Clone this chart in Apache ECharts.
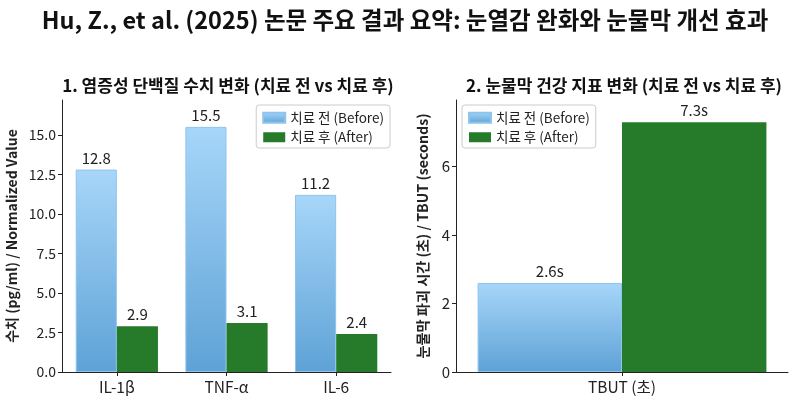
<!DOCTYPE html>
<html>
<head>
<meta charset="utf-8">
<script src="https://cdn.jsdelivr.net/npm/echarts@6/dist/echarts.min.js"></script>
<style>
  html, body { margin: 0; padding: 0; background: #fff; }
  #chart { width: 800px; height: 409px; }
</style>
</head>
<body>
<div id="chart"></div>
<script>
// 데이터
const seriesNames = ['치료 전 (Before)', '치료 후 (After)'];
const proteinCats = ['IL-1β', 'TNF-α', 'IL-6'];
const proteinBefore = [12.8, 15.5, 11.2];
const proteinAfter = [2.9, 3.1, 2.4];
const tbutCats = ['TBUT (초)'];
const tbutBefore = [2.6];
const tbutAfter = [7.3];

const FONT = '"Noto Sans CJK KR", "Noto Sans", sans-serif';
const beforeColor = new echarts.graphic.LinearGradient(0, 0, 0, 1, [
  { offset: 0, color: '#a7d6f9' },
  { offset: 1, color: '#5ea2d6' }
]);
const afterColor = '#267b2a';

const chart = echarts.init(document.getElementById('chart'));

// 공통 축 스타일
const axisLine = { show: true, lineStyle: { color: '#222', width: 1 } };
const axisLabel = { color: '#222', fontSize: 14, fontFamily: FONT };
const legendBase = {
  data: seriesNames, orient: 'vertical', top: 105,
  icon: 'rect', itemWidth: 22, itemHeight: 10, itemGap: 6,
  padding: [6, 6, 4, 6], borderColor: '#ccc', borderWidth: 1, borderRadius: 3,
  textStyle: { fontSize: 13.5, color: '#222', fontFamily: FONT }
};

const option = {
  backgroundColor: '#fff',
  animation: false,
  textStyle: { fontFamily: FONT },
  title: [
    {
      text: 'Hu, Z., et al. (2025) 논문 주요 결과 요약: 눈열감 완화와 눈물막 개선 효과',
      left: 400, top: 3, textAlign: 'center',
      textStyle: { fontSize: 23.5, fontWeight: 'bold', color: '#111', fontFamily: FONT }
    },
    {
      text: '1. 염증성 단백질 수치 변화 (치료 전 vs 치료 후)',
      left: 223, top: 72, textAlign: 'center',
      textStyle: { fontSize: 17, fontWeight: 'bold', color: '#111', fontFamily: FONT }
    },
    {
      text: '2. 눈물막 건강 지표 변화 (치료 전 vs 치료 후)',
      left: 619, top: 72, textAlign: 'center',
      textStyle: { fontSize: 17, fontWeight: 'bold', color: '#111', fontFamily: FONT }
    }
  ],
  legend: [
    Object.assign({}, legendBase, { right: 410 }),
    Object.assign({}, legendBase, { left: 462 })
  ],
  grid: [
    { left: 62, right: 409, top: 100, bottom: 37 },
    { left: 456, right: 12, top: 100, bottom: 37 }
  ],
  xAxis: [
    {
      type: 'category', gridIndex: 0, data: proteinCats,
      axisLine: axisLine, axisTick: { show: true, alignWithLabel: true, length: 4, lineStyle: { color: '#222' } },
      axisLabel: Object.assign({}, axisLabel, { fontSize: 15.5, margin: 7 })
    },
    {
      type: 'category', gridIndex: 1, data: tbutCats,
      axisLine: axisLine, axisTick: { show: true, alignWithLabel: true, length: 4, lineStyle: { color: '#222' } },
      axisLabel: Object.assign({}, axisLabel, { fontSize: 15.5, margin: 7 })
    }
  ],
  yAxis: [
    {
      type: 'value', gridIndex: 0, min: 0, max: 17.2, interval: 2.5,
      name: '수치 (pg/ml) / Normalized Value', nameLocation: 'middle', nameGap: 43,
      nameTextStyle: { fontSize: 14, fontWeight: 'bold', color: '#222', fontFamily: FONT },
      axisLine: axisLine, axisTick: { show: true, length: 4, lineStyle: { color: '#222' } },
      splitLine: { show: false },
      axisLabel: Object.assign({}, axisLabel, {
        showMaxLabel: false, margin: 6,
        formatter: function (v) { return v.toFixed(1); }
      })
    },
    {
      type: 'value', gridIndex: 1, min: 0, max: 7.95, interval: 2,
      name: '눈물막 파괴 시간 (초) / TBUT (seconds)', nameLocation: 'middle', nameGap: 26,
      nameTextStyle: { fontSize: 14.2, fontWeight: 'bold', color: '#222', fontFamily: FONT },
      axisLine: axisLine, axisTick: { show: true, length: 4, lineStyle: { color: '#222' } },
      splitLine: { show: false },
      axisLabel: Object.assign({}, axisLabel, { showMaxLabel: false, fontSize: 15, margin: 6 })
    }
  ],
  series: [
    {
      name: seriesNames[0], type: 'bar', xAxisIndex: 0, yAxisIndex: 0,
      data: proteinBefore, barCategoryGap: '25%', barGap: '0%',
      itemStyle: { color: beforeColor, borderColor: '#8fc4ec', borderWidth: 1 },
      label: { show: true, position: 'top', fontSize: 15, color: '#222', distance: 4,
        formatter: function (p) { return p.value.toFixed(1); } }
    },
    {
      name: seriesNames[1], type: 'bar', xAxisIndex: 0, yAxisIndex: 0,
      data: proteinAfter, barCategoryGap: '25%', barGap: '0%',
      itemStyle: { color: afterColor },
      label: { show: true, position: 'top', fontSize: 15, color: '#222', distance: 4,
        formatter: function (p) { return p.value.toFixed(1); } }
    },
    {
      name: seriesNames[0], type: 'bar', xAxisIndex: 1, yAxisIndex: 1,
      data: tbutBefore, barCategoryGap: '13%', barGap: '0%',
      itemStyle: { color: beforeColor, borderColor: '#8fc4ec', borderWidth: 1 },
      label: { show: true, position: 'top', fontSize: 15, color: '#222', distance: 4,
        formatter: function (p) { return p.value.toFixed(1) + 's'; } }
    },
    {
      name: seriesNames[1], type: 'bar', xAxisIndex: 1, yAxisIndex: 1,
      data: tbutAfter, barCategoryGap: '13%', barGap: '0%',
      itemStyle: { color: afterColor },
      label: { show: true, position: 'top', fontSize: 15, color: '#222', distance: 4,
        formatter: function (p) { return p.value.toFixed(1) + 's'; } }
    }
  ]
};

chart.setOption(option);
</script>
</body>
</html>
